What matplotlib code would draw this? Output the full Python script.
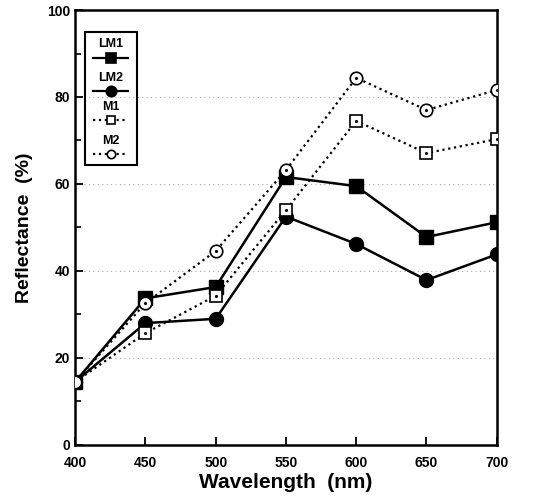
import numpy as np
import matplotlib.pyplot as plt
from matplotlib.lines import Line2D
from matplotlib.patches import Rectangle
from matplotlib.ticker import MultipleLocator

plt.rcParams['font.family'] = ['Liberation Sans', 'DejaVu Sans']
plt.rcParams['font.weight'] = 'bold'

wavelength = [400, 450, 500, 550, 600, 650, 700]
lm1 = [14.5, 33.7, 36.3, 61.6, 59.5, 47.8, 51.2]
lm2 = [14.5, 28.0, 29.0, 52.5, 46.2, 37.9, 43.8]
m1 = [14.5, 25.7, 34.3, 54.0, 74.5, 67.1, 70.3]
m2 = [14.5, 32.6, 44.6, 63.2, 84.4, 77.0, 81.6]

fig = plt.figure(figsize=(5.37, 5.01), dpi=100)
ax = fig.add_axes([0.14, 0.112, 0.785, 0.868])

ax.yaxis.grid(True, color='#aaaaaa', linestyle=(0, (1, 3)), linewidth=0.8)
ax.set_axisbelow(True)

ax.plot(wavelength, lm1, '-', color='black', lw=1.8, marker='s', ms=9.5, mfc='black', zorder=3)
ax.plot(wavelength, lm2, '-', color='black', lw=1.8, marker='o', ms=10, mfc='black', zorder=3)
ax.plot(wavelength, m1, ':', color='black', lw=1.6, marker='s', ms=8.5, mfc='white', mew=1.2, zorder=3)
ax.plot(wavelength, m2, ':', color='black', lw=1.6, marker='o', ms=9, mfc='white', mew=1.2, zorder=3)
# centre dots in the open markers
ax.plot(wavelength[1:], m1[1:], 'k.', ms=2.5, zorder=4)
ax.plot(wavelength[1:], m2[1:], 'k.', ms=2.5, zorder=4)

ax.set_xlim(400, 700)
ax.set_ylim(0, 100)
ax.xaxis.set_major_locator(MultipleLocator(50))
ax.yaxis.set_major_locator(MultipleLocator(20))
ax.yaxis.set_minor_locator(MultipleLocator(10))
ax.tick_params(direction='in', which='major', length=6, width=1.3, labelsize=10)
ax.tick_params(direction='in', which='minor', length=4, width=1.2)
ax.tick_params(axis='x', pad=8)
for s in ax.spines.values():
    s.set_linewidth(1.8)

ax.set_xlabel('Wavelength  (nm)', fontsize=15, fontweight='bold', labelpad=2)
ax.set_ylabel('Reflectance  (%)', fontsize=14, fontweight='bold', labelpad=10)

# legend with labels stacked above their symbols
ax.add_patch(Rectangle((0.024, 0.644), 0.123, 0.305, transform=ax.transAxes,
                       fill=False, lw=1.5, color='black', zorder=5))
entries = [('LM1', '-', 's', 'black', 6.5),
           ('LM2', '-', 'o', 'black', 7.5),
           ('M1', ':', 's', 'white', 5.5),
           ('M2', ':', 'o', 'white', 6)]
mark_y = [0.890, 0.814, 0.747, 0.669]
for (name, ls, mk, fc, ms), my in zip(entries, mark_y):
    ax.text(0.085, my + 0.017, name, transform=ax.transAxes, ha='center', va='bottom',
            fontsize=9, fontweight='bold', zorder=6)
    ax.add_line(Line2D([0.043, 0.126], [my, my], transform=ax.transAxes, color='black',
                       ls=ls, lw=1.6, zorder=6))
    ax.add_line(Line2D([0.085], [my], transform=ax.transAxes, color='black',
                       marker=mk, ms=ms, mfc=fc, mew=1.2, zorder=7))

fig.savefig('out.png', dpi=100)
